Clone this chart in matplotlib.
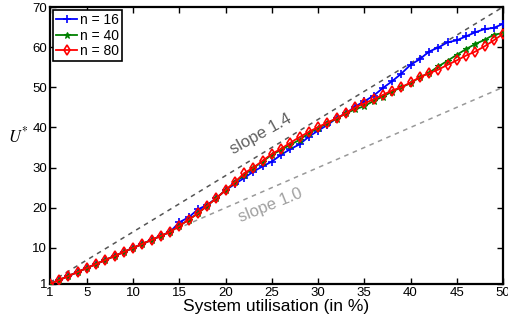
import numpy as np
import matplotlib
matplotlib.use("Agg")
import matplotlib.pyplot as plt

plt.rcParams['font.family'] = ['Liberation Sans', 'DejaVu Sans']
plt.rcParams['mathtext.fontset'] = 'stix'

## values
util = list(range(1, 51))

u_n16 = [1, 2, 3, 4, 5, 6, 7, 8, 9, 10, 11, 12, 13, 14, 16.4, 17.6, 19.6, 20.7, 22.4, 24.4,
         25.9, 27.4, 29.0, 30.3, 31.5, 33.2, 34.6, 35.8, 37.7, 39.2,
         40.6, 42.3, 43.5, 45.2, 46.5, 47.9, 49.8, 51.5, 53.4, 55.6,
         57.0, 58.9, 59.9, 61.2, 61.7, 62.7, 63.7, 64.5, 64.8, 65.8]
u_n40 = [1, 2, 3, 4, 5, 6, 7, 8, 9, 10, 11, 12, 13, 14, 15.5, 17.0, 18.6, 20.5, 22.4, 24.4,
         26.3, 28.2, 29.9, 31.5, 33.2, 34.4, 35.7, 36.9, 38.6, 39.8,
         41.1, 42.2, 43.5, 44.5, 45.3, 46.6, 47.7, 48.9, 50.0, 51.0,
         52.5, 53.6, 55.2, 56.6, 58.1, 59.5, 60.8, 61.8, 63.1, 63.5]
u_n80 = [1, 2, 3, 4, 5, 6, 7, 8, 9, 10, 11, 12, 13, 14, 15.5, 17.0, 18.6, 20.5, 22.4, 24.4,
         26.4, 28.6, 30.0, 31.7, 33.4, 34.7, 36.2, 37.6, 38.9, 40.1,
         41.2, 42.3, 43.5, 45.0, 46.0, 47.0, 48.1, 49.2, 50.0, 51.2,
         52.5, 53.5, 54.4, 55.6, 56.7, 57.9, 58.9, 60.2, 61.7, 63.3]

xticks = [1, 5, 10, 15, 20, 25, 30, 35, 40, 45, 50]
yticks = [1, 10, 20, 30, 40, 50, 60, 70]

fig = plt.figure(figsize=(5.08, 3.22), dpi=100)
ax = fig.add_axes([50 / 508, 38 / 322, 453 / 508, 277 / 322])

x = np.array(util)
# reference slopes
ax.plot(x, 1.4 * x, ls=(0, (3, 3)), color='#555555', lw=1.1, zorder=1)
ax.plot(x, 1.0 * x, ls=(0, (3, 3)), color='#999999', lw=1.1, zorder=1)

ax.plot(util, u_n16, color='#0000ff', marker='+', ms=6, mew=1.2, lw=1.3, label='n = 16', zorder=3)
ax.plot(util, u_n40, color='#008000', marker='*', ms=4.5, mew=0.8, lw=1.3, label='n = 40', zorder=4)
ax.plot(util, u_n80, color='#ff0000', marker='d', ms=5.5, mew=1.2, mfc='none', lw=1.3, label='n = 80', zorder=5)

ax.text(23.8, 38.4, 'slope 1.4', color='#606060', fontsize=12, rotation=29,
        ha='center', va='center')
ax.text(24.8, 20.6, 'slope 1.0', color='#a0a0a0', fontsize=12, rotation=22,
        ha='center', va='center')

ax.set_xlim(1, 50)
ax.set_ylim(1, 70)
ax.set_xticks(xticks)
ax.set_yticks(yticks)
ax.tick_params(direction='in', length=4, width=1, top=True, right=True,
               labelsize=9.5, pad=2)
for s in ax.spines.values():
    s.set_linewidth(1.6)

ax.set_xlabel('System utilisation (in %)', fontsize=12.5, labelpad=0.5)
ax.set_ylabel(r'$U^{*}$', fontsize=12, rotation=0, labelpad=12)
ax.yaxis.set_label_coords(-0.07, 0.5)

leg = ax.legend(loc='upper left', fontsize=10, handlelength=1.5, handletextpad=0.2,
                borderpad=0.2, labelspacing=0.1, borderaxespad=0.25, fancybox=False,
                framealpha=1)
leg.get_frame().set_edgecolor('black')
leg.get_frame().set_linewidth(1.2)

fig.savefig('out.png', dpi=100)
